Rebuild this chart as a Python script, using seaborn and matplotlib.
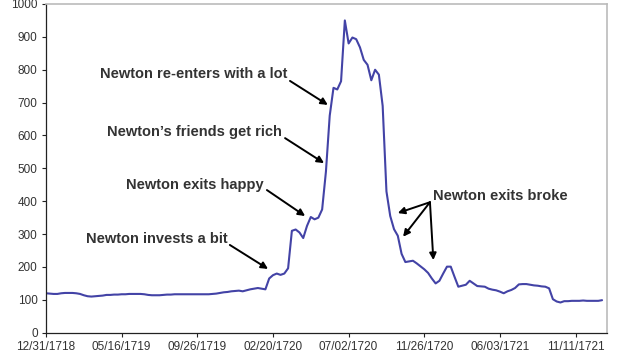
import matplotlib
matplotlib.use("Agg")
import matplotlib.pyplot as plt
import seaborn as sns
import pandas as pd

# South Sea Company share price, one value per observation (category axis)
price = [
    120, 119, 118, 118, 120, 121, 121, 121, 120, 118,
    114, 111, 110, 111, 112, 113, 115, 115, 116, 116,
    117, 117, 118, 118, 118, 118, 117, 115, 114, 114,
    114, 115, 116, 116, 117, 117, 117, 117, 117, 117,
    117, 117, 117, 117, 118, 119, 121, 123, 124, 126,
    127, 128, 126, 129, 132, 134, 136, 134, 132, 165,
    175, 180, 176, 180, 196, 310, 314, 305, 288, 325,
    352, 345, 350, 375, 490, 660, 745, 740, 765, 950,
    880, 898, 893, 868, 830, 815, 768, 800, 785, 690,
    430, 355, 315, 295, 240, 215, 217, 219, 211, 202,
    193, 182, 165, 150, 158, 180, 201, 201, 170, 140,
    143, 146, 158, 150, 142, 141, 140, 134, 131, 129,
    125, 120, 126, 130, 136, 147, 148, 148, 146, 144,
    143, 141, 140, 135, 102, 95, 92, 96, 96, 97,
    97, 97, 98, 97, 97, 97, 97, 99,
]
tick_labels = ["12/31/1718", "05/16/1719", "09/26/1719", "02/20/1720",
               "07/02/1720", "11/26/1720", "06/03/1721", "11/11/1721"]
tick_step = 20

# annotations: text, text anchor (x, y), alignment, arrow tail, arrow heads
notes = [
    ("Newton re-enters with a lot", (63.7, 786), "right", (64.5, 766), [(74.5, 693)]),
    ("Newton\u2019s friends get rich", (62.4, 611), "right", (63.2, 592), [(73.5, 516)]),
    ("Newton exits happy", (57.4, 449), "right", (58.4, 434), [(68.5, 355)]),
    ("Newton invests a bit", (48.1, 285), "right", (48.6, 267), [(58.7, 194)]),
    ("Newton exits broke", (102.3, 416), "left", (101.5, 397),
     [(93.0, 364), (94.4, 292), (102.4, 221)]),
]

df = pd.DataFrame({"idx": range(len(price)), "price": price})

sns.set_style("white")
plt.rcParams["font.family"] = ["Liberation Sans", "DejaVu Sans"]

fig = plt.figure(figsize=(6.2, 3.57), dpi=100)
ax = fig.add_axes([0.0742, 0.068, 0.9048, 0.9208])

sns.lineplot(data=df, x="idx", y="price", ax=ax, color="#4343a6", linewidth=1.5)

ax.set_xlim(0, 148.3)
ax.set_ylim(0, 1000)
ax.set_yticks(range(0, 1001, 100))
ax.set_xticks(range(0, len(tick_labels) * tick_step, tick_step))
ax.set_xticklabels(tick_labels)
ax.set_xlabel("")
ax.set_ylabel("")
ax.tick_params(axis="both", direction="out", length=3, width=0.8, color="#222222",
               labelsize=8.5, labelcolor="#333333", pad=3,
               left=True, bottom=True)

for side in ["left", "bottom"]:
    ax.spines[side].set_color("#222222")
    ax.spines[side].set_linewidth(0.9)
for side in ["top", "right"]:
    ax.spines[side].set_color("#bbbbbb")
    ax.spines[side].set_linewidth(1.2)

for text, pos, ha, tail, heads in notes:
    ax.text(pos[0], pos[1], text, ha=ha, va="center", fontsize=10.5,
            fontweight="bold", color="#333333")
    for head in heads:
        ax.annotate("", xy=head, xytext=tail,
                    arrowprops=dict(arrowstyle="-|>", color="black", lw=1.4,
                                    mutation_scale=10, shrinkA=0, shrinkB=0))

fig.savefig("out.png", dpi=100)
